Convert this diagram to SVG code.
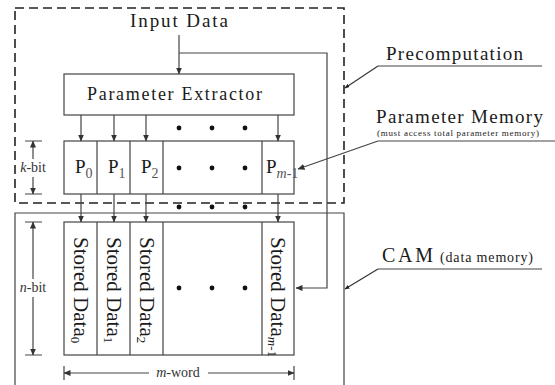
<svg xmlns="http://www.w3.org/2000/svg" width="555" height="385" viewBox="0 0 555 385" font-family="'Liberation Serif', 'Times New Roman', serif">
<defs>
<marker id="ah" markerUnits="userSpaceOnUse" markerWidth="7" markerHeight="6" refX="6.5" refY="3" orient="auto"><path d="M0,0 L7,3 L0,6 z" fill="#333"/></marker>
<marker id="ahs" markerUnits="userSpaceOnUse" markerWidth="5" markerHeight="4" refX="4.5" refY="2" orient="auto"><path d="M0,0 L5,2 L0,4 z" fill="#222"/></marker>
<style>
text{font-family:'Liberation Serif','Times New Roman',serif;fill:#1a1a1a}
.box{fill:#fff;stroke:#444;stroke-width:1.2}
.ln{fill:none;stroke:#444;stroke-width:1.2}
.lnA{fill:none;stroke:#444;stroke-width:1.2;marker-end:url(#ah)}
.lead{fill:none;stroke:#333;stroke-width:1.2;marker-end:url(#ahs)}
.dash{fill:none;stroke:#222;stroke-width:1.6;stroke-dasharray:9,5}
.dot{fill:#111}
.p{font-size:19px}
.ps{font-size:14px;fill:#555}
.sd{font-size:21px}
.sds{font-size:13px}
.dim{font-size:14px;fill:#333}
</style>
</defs>
<rect width="555" height="385" fill="#fff"/>

<g id="cam">
<path class="ln" d="M15,390 V213 H344 V390" stroke="#555"/>
</g>

<g id="precomputation">
<rect class="dash" x="15" y="8" width="329" height="195"/>
</g>

<g id="input-data">
<text x="130" y="27" font-size="19" textLength="98" lengthAdjust="spacing">Input Data</text>
</g>

<g id="parameter-extractor">
<rect class="box" x="64" y="74" width="230" height="41"/>
<text x="87" y="100" font-size="18" textLength="175" lengthAdjust="spacing">Parameter Extractor</text>
</g>

<g id="parameter-memory">
<rect class="box" x="64" y="141" width="230" height="53"/>
<path class="ln" d="M97,141 V194 M130,141 V194 M163,141 V194 M262,141 V194"/>
<text class="p" x="75" y="173">P<tspan class="ps" dy="5">0</tspan></text>
<text class="p" x="108" y="173">P<tspan class="ps" dy="5">1</tspan></text>
<text class="p" x="141" y="173">P<tspan class="ps" dy="5">2</tspan></text>
<text class="p" x="266" y="173">P<tspan class="ps" dy="5" fill="#333"><tspan font-style="italic">m</tspan>-1</tspan></text>
<circle class="dot" cx="179" cy="168" r="2.4"/>
<circle class="dot" cx="212" cy="168" r="2.4"/>
<circle class="dot" cx="245" cy="168" r="2.4"/>
</g>

<g id="stored-data">
<rect class="box" x="64" y="222" width="230" height="133"/>
<path class="ln" d="M97,222 V355 M130,222 V355 M163,222 V355 M262,222 V355"/>
<text class="sd" transform="translate(74,237) rotate(90)">Stored Data<tspan class="sds" dy="3">0</tspan></text>
<text class="sd" transform="translate(106.5,237) rotate(90)">Stored Data<tspan class="sds" dy="3">1</tspan></text>
<text class="sd" transform="translate(139.5,237) rotate(90)">Stored Data<tspan class="sds" dy="3">2</tspan></text>
<text class="sd" transform="translate(271,237) rotate(90)">Stored Data<tspan class="sds" dy="3"><tspan font-style="italic">m</tspan>-1</tspan></text>
<circle class="dot" cx="179" cy="288" r="2.4"/>
<circle class="dot" cx="212" cy="288" r="2.4"/>
<circle class="dot" cx="245" cy="288" r="2.4"/>
</g>

<g id="connectors">
<path class="lnA" d="M179,35 V74"/>
<path class="lnA" d="M179,53 H327 V288 H296"/>
<path class="lnA" d="M81,115 V141"/>
<path class="lnA" d="M114,115 V141"/>
<path class="lnA" d="M146,115 V141"/>
<path class="lnA" d="M278,115 V141"/>
<path class="lnA" d="M81,194 V222"/>
<path class="lnA" d="M114,194 V222"/>
<path class="lnA" d="M146,194 V222"/>
<path class="lnA" d="M278,194 V222"/>
<circle class="dot" cx="179" cy="128" r="2.4"/>
<circle class="dot" cx="212" cy="128" r="2.4"/>
<circle class="dot" cx="245" cy="128" r="2.4"/>
<circle class="dot" cx="179" cy="207" r="2.4"/>
<circle class="dot" cx="212" cy="207" r="2.4"/>
<circle class="dot" cx="245" cy="207" r="2.4"/>
</g>

<g id="dimensions">
<path class="ln" d="M25,141 H42 M25,194 H42"/>
<path class="lnA" d="M33,159 V141"/>
<path class="lnA" d="M33,177 V194"/>
<text class="dim" x="33" y="172" text-anchor="middle"><tspan font-style="italic">k</tspan>-bit</text>
<path class="ln" d="M25,222 H42 M25,355 H42"/>
<path class="lnA" d="M33,279 V222"/>
<path class="lnA" d="M33,297 V355"/>
<text class="dim" x="33" y="292" text-anchor="middle"><tspan font-style="italic">n</tspan>-bit</text>
<path class="ln" d="M64,366 V380 M294,366 V380"/>
<path class="lnA" d="M149,373 H64"/>
<path class="lnA" d="M208,373 H294"/>
<text class="dim" x="178" y="377" font-size="15" text-anchor="middle"><tspan font-style="italic">m</tspan>-word</text>
</g>

<g id="label-precomputation">
<text x="386" y="60" font-size="19" textLength="137" lengthAdjust="spacing">Precomputation</text>
<path class="ln" d="M378,66 H542" stroke="#666"/>
<path class="lead" d="M378,66 L345,88"/>
</g>

<g id="label-parameter-memory">
<text x="376" y="123" font-size="19" textLength="167" lengthAdjust="spacing">Parameter Memory</text>
<text x="377" y="136" font-size="9" textLength="162" lengthAdjust="spacing">(must access total parameter memory)</text>
<path class="ln" d="M378,141 H555" stroke="#222"/>
<path class="lnA" d="M378,141 L298,169"/>
</g>

<g id="label-cam">
<text x="382" y="262" font-size="20" textLength="51" lengthAdjust="spacing">CAM</text>
<text x="440" y="262" font-size="14" textLength="93" lengthAdjust="spacing">(data memory)</text>
<path class="ln" d="M378,269 H542" stroke="#666"/>
<path class="lead" d="M378,269 L345,289"/>
</g>
</svg>
